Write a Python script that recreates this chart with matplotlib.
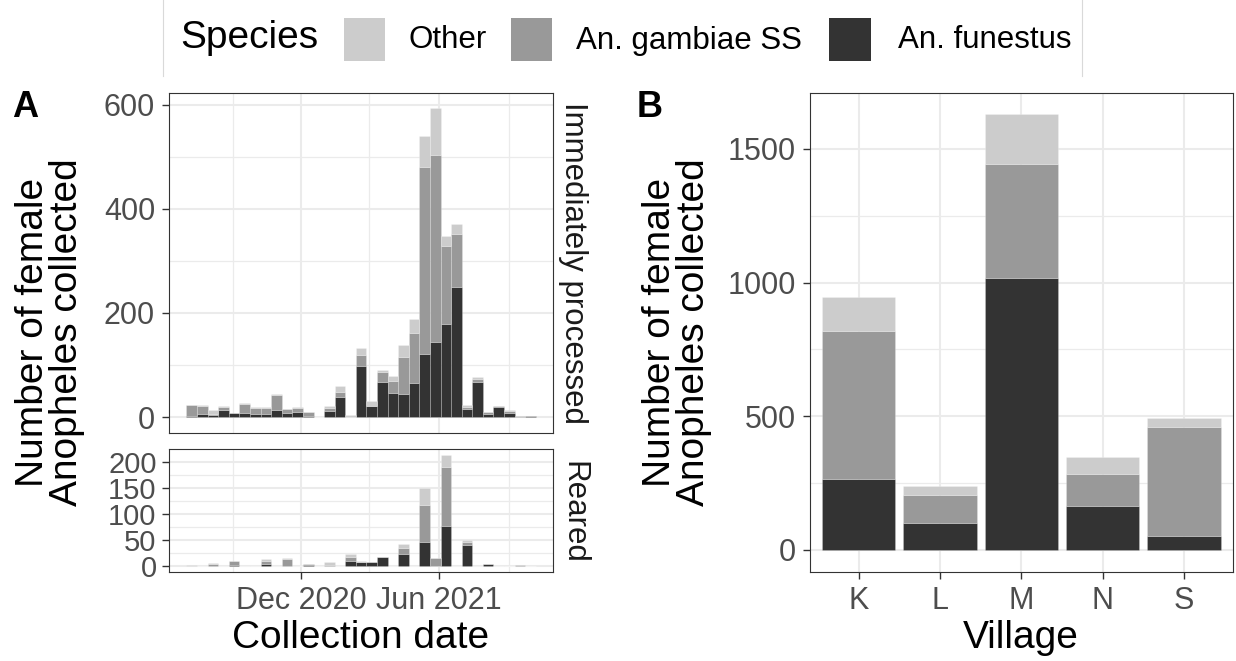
import matplotlib
matplotlib.use("Agg")
import matplotlib.pyplot as plt
import matplotlib.dates as mdates
from matplotlib.patches import Rectangle
from matplotlib.lines import Line2D
from matplotlib import font_manager
import datetime as dt

plt.rcParams['font.family'] = ['Liberation Sans', 'DejaVu Sans']

# ---------------- data ----------------
bin_dates = ["2020-07-09", "2020-07-23", "2020-08-06", "2020-08-20", "2020-09-03", "2020-09-17",
             "2020-10-01", "2020-10-15", "2020-10-29", "2020-11-12", "2020-11-26", "2020-12-10",
             "2020-12-24", "2021-01-07", "2021-01-21", "2021-02-04", "2021-02-18", "2021-03-04",
             "2021-03-18", "2021-04-01", "2021-04-15", "2021-04-29", "2021-05-13", "2021-05-27",
             "2021-06-10", "2021-06-24", "2021-07-08", "2021-07-22", "2021-08-05", "2021-08-19",
             "2021-09-02", "2021-09-16", "2021-09-30"]

species = ["Other", "An. gambiae SS", "An. funestus"]

proc_funestus = [3, 6, 4, 13, 8, 9, 6, 6, 13, 8, 10, 2, 0, 12, 38, 1, 99, 22, 68, 47, 45, 65,
                 121, 144, 178, 249, 15, 68, 6, 19, 8, 0, 2]
proc_gambiae = [20, 16, 2, 6, 0, 17, 12, 12, 30, 7, 7, 8, 0, 6, 10, 0, 20, 0, 18, 22, 70, 96,
                360, 360, 150, 103, 5, 6, 4, 2, 4, 2, 0]
proc_other = [1, 1, 7, 3, 0, 1, 1, 1, 1, 1, 3, 0, 0, 4, 12, 3, 13, 10, 4, 10, 23, 28,
              59, 89, 20, 19, 4, 3, 0, 1, 1, 1, 0]

rear_funestus = [0, 0, 0, 0, 3, 0, 0, 4, 0, 1, 0, 3, 0, 0, 0, 10, 7, 7, 18, 0, 24, 0,
                 47, 0, 77, 0, 40, 0, 4, 0, 0, 0, 0]
rear_gambiae = [0, 0, 4, 1, 7, 0, 0, 6, 0, 13, 0, 2, 0, 3, 1, 8, 0, 0, 0, 0, 11, 1,
                71, 15, 113, 0, 6, 1, 1, 0, 0, 2, 0]
rear_other = [2, 1, 2, 0, 0, 0, 0, 3, 0, 1, 0, 0, 0, 4, 0, 5, 3, 0, 0, 0, 8, 0,
              33, 0, 24, 0, 5, 0, 0, 0, 0, 0, 0]

villages = ["K", "L", "M", "N", "S"]
vil_funestus = [265, 101, 1018, 164, 51]
vil_gambiae = [554, 106, 425, 120, 407]
vil_other = [129, 33, 186, 62, 37]

# ---------------- style ----------------
colors = {"Other": "#CCCCCC", "An. gambiae SS": "#999999", "An. funestus": "#333333"}
GRID = "#EBEBEB"
BORDER = "#333333"
TICKCOL = "#4D4D4D"
TICK_FS = 22
TITLE_FS = 28
bin_width = 14  # days

installed = {f.name for f in font_manager.fontManager.ttflist}
narrow_family = ['Liberation Sans Narrow'] if 'Liberation Sans Narrow' in installed else ['Liberation Sans']

W, H = 1236, 661
fig = plt.figure(figsize=(W / 100, H / 100), dpi=100)


def rect(l, t, r, b):
    return [l / W, 1 - b / H, (r - l) / W, (b - t) / H]


def style_axes(ax):
    ax.set_facecolor("white")
    for s in ax.spines.values():
        s.set_color(BORDER)
        s.set_linewidth(0.8)
        s.set_zorder(5)
    ax.grid(True, which="major", color=GRID, linewidth=1.5, zorder=0)
    ax.grid(True, which="minor", color=GRID, linewidth=0.9, zorder=0)
    ax.set_axisbelow(True)
    ax.tick_params(which="major", length=5, width=1.0, color=BORDER, labelsize=TICK_FS,
                   labelcolor=TICKCOL, pad=5)
    ax.tick_params(which="minor", length=0)


x_dates = mdates.date2num([dt.datetime.strptime(d, "%Y-%m-%d") for d in bin_dates])
x_left = x_dates[0] - bin_width / 2
x_right = x_dates[-1] + bin_width / 2
x_pad = 0.05 * (x_right - x_left)


def stacked(ax, x, fun, gam, oth, width):
    b1 = list(fun)
    b2 = [a + b for a, b in zip(fun, gam)]
    kw = dict(width=width, edgecolor=(1, 1, 1, 0.35), linewidth=0.4, zorder=2)
    ax.bar(x, fun, color=colors["An. funestus"], **kw)
    ax.bar(x, gam, bottom=b1, color=colors["An. gambiae SS"], **kw)
    ax.bar(x, oth, bottom=b2, color=colors["Other"], **kw)
    return max(a + b for a, b in zip(b2, oth))


axA1 = fig.add_axes(rect(169, 92.7, 553.3, 432.7))
axA2 = fig.add_axes(rect(169, 449.3, 553.3, 571.7), sharex=axA1)
axB = fig.add_axes(rect(810, 92.7, 1232.7, 571.7))

for ax in (axA1, axA2, axB):
    style_axes(ax)

m1 = stacked(axA1, x_dates, proc_funestus, proc_gambiae, proc_other, bin_width)
m2 = stacked(axA2, x_dates, rear_funestus, rear_gambiae, rear_other, bin_width)
axA1.set_ylim(-0.05 * m1, 1.05 * m1)
axA2.set_ylim(-0.05 * m2, 1.05 * m2)
axA1.set_xlim(x_left - x_pad, x_right + x_pad)

axA1.set_yticks([0, 200, 400, 600])
axA1.set_yticks([100, 300, 500], minor=True)
axA2.set_yticks([0, 50, 100, 150, 200])
axA2.set_yticks([25, 75, 125, 175], minor=True)
for lab in axA2.get_yticklabels():
    lab.set_family(narrow_family)
    lab.set_fontsize(21)

for ax in (axA1, axA2):
    ax.xaxis.set_major_locator(mdates.MonthLocator(bymonth=[6, 12]))
    ax.xaxis.set_minor_locator(mdates.MonthLocator(bymonth=[3, 9]))
    ax.xaxis.set_major_formatter(mdates.DateFormatter("%b %Y"))
axA1.tick_params(axis="x", which="both", length=0, labelbottom=False)
axA2.tick_params(axis="y", pad=4)

# strip labels
fig.text(573 / W, 1 - 262.7 / H, "Immediately processed", rotation=-90, ha="center",
         va="center", fontsize=22.5, color="#1A1A1A")
fig.text(573 / W, 1 - 512 / H, "Reared", rotation=-90, ha="center",
         va="center", fontsize=22.5, color="#1A1A1A")

# panel B
xb = list(range(len(villages)))
mb = stacked(axB, xb, vil_funestus, vil_gambiae, vil_other, 0.9)
axB.set_xlim(-0.6, len(villages) - 0.4)
axB.set_ylim(-0.05 * mb, 1.05 * mb)
axB.set_xticks(xb)
axB.set_xticklabels(villages)
axB.set_yticks([0, 500, 1000, 1500])
axB.set_yticks([250, 750, 1250], minor=True)

# axis titles
ylab = "Number of female\nAnopheles collected"
fig.text(50 / W, 1 - 332 / H, ylab, rotation=90, ha="center", va="center",
         fontsize=TITLE_FS, linespacing=0.95, multialignment="center")
fig.text(677 / W, 1 - 332 / H, ylab, rotation=90, ha="center", va="center",
         fontsize=TITLE_FS, linespacing=0.95, multialignment="center")
fig.text(361 / W, 1 - 648 / H, "Collection date", ha="center", va="baseline", fontsize=TITLE_FS)
fig.text(1021 / W, 1 - 648 / H, "Village", ha="center", va="baseline", fontsize=TITLE_FS)

# panel tags
fig.text(12 / W, 1 - 117 / H, "A", ha="left", va="baseline", fontsize=26, fontweight="bold")
fig.text(637 / W, 1 - 117 / H, "B", ha="left", va="baseline", fontsize=26, fontweight="bold")

# legend (manual)
fig.text(180 / W, 1 - 48.5 / H, "Species", ha="left", va="baseline", fontsize=TITLE_FS)
key_x = [343.7, 510.6, 829.0]
txt_x = [409, 576.2, 897.6]
for sp, kx, tx in zip(species, key_x, txt_x):
    fig.patches.append(Rectangle((kx / W, 1 - 61 / H), 41.7 / W, 42.7 / H,
                                 transform=fig.transFigure, facecolor=colors[sp],
                                 edgecolor="none"))
    fig.text(tx / W, 1 - 48.5 / H, sp, ha="left", va="baseline", fontsize=22.5)
for lx in (163.3, 1082.3):
    fig.lines.append(Line2D([lx / W, lx / W], [1, 1 - 76 / H], transform=fig.transFigure,
                            color="#D9D9D9", linewidth=0.8))

fig.savefig("out.png", dpi=100, facecolor="white")
